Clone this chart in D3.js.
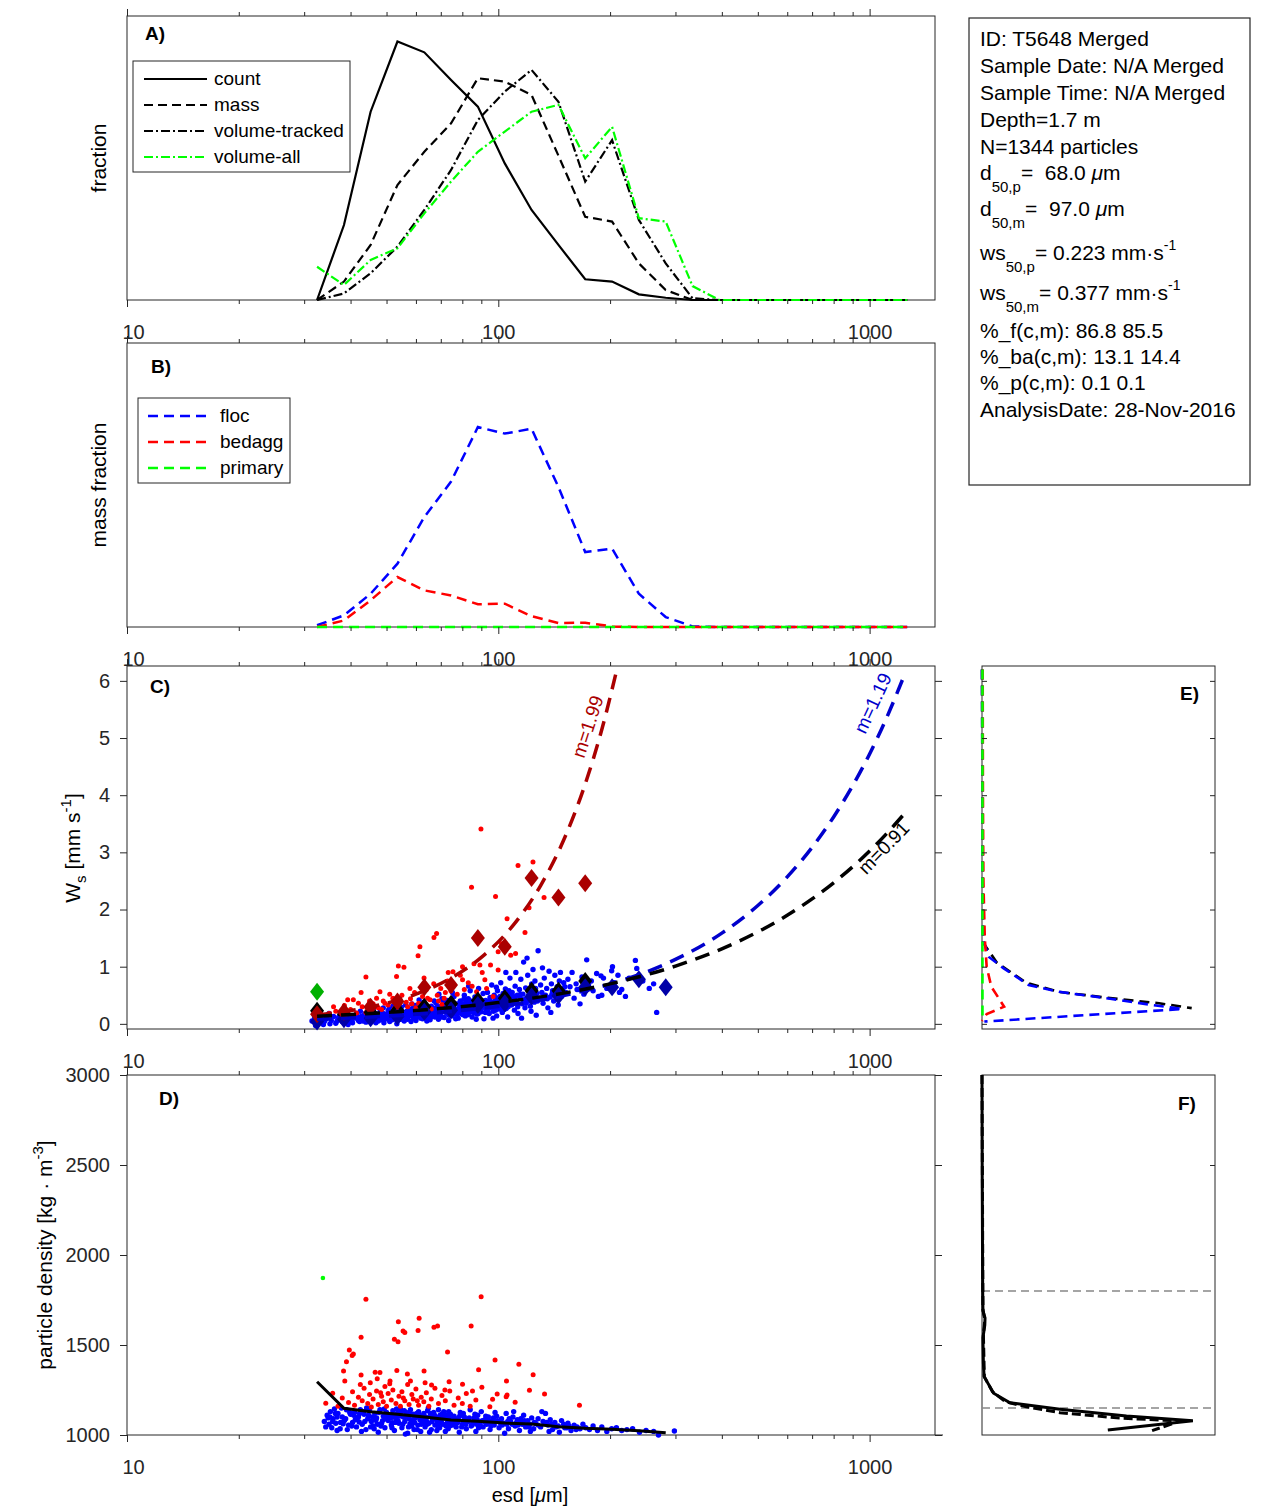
<!DOCTYPE html>
<html><head><meta charset="utf-8">
<script src="https://cdn.jsdelivr.net/npm/d3@7/dist/d3.min.js"></script>
<style>
body{margin:0;background:#fff}
svg{display:block}
text{font-family:"Liberation Sans",Arial,Helvetica,sans-serif}
</style>
</head><body>
<svg id="c" width="1270" height="1511"></svg>
<script>
// ---------------- DATA ----------------
const bins = [32.5, 38.4, 45.3, 53.5, 63.2, 74.6, 88.1, 104.1, 122.9, 145.2, 171.4, 202.5, 239.1, 282.4, 333.5, 393.9, 465.2, 549.4, 648.8, 766.3, 905, 1068.8, 1262.3];
const xTickMajor = [10, 100, 1000];
const xTickMinor = [20,30,40,50,60,70,80,90,200,300,400,500,600,700,800,900];

// Panel A (relative fraction)
const countFrac   = [0, 0.264, 0.663, 0.910, 0.872, 0.775, 0.681, 0.481, 0.317, 0.194, 0.073, 0.065, 0.020, 0.008, 0, 0, 0, 0, 0, 0, 0, 0, 0];
const massFrac    = [0, 0.065, 0.194, 0.405, 0.522, 0.622, 0.781, 0.769, 0.722, 0.508, 0.293, 0.276, 0.129, 0.035, 0, 0, 0, 0, 0, 0, 0, 0, 0];
const volTracked  = [0, 0.023, 0.094, 0.188, 0.317, 0.458, 0.634, 0.734, 0.810, 0.698, 0.417, 0.563, 0.282, 0.129, 0.006, 0, 0, 0, 0, 0, 0, 0, 0];
const volAll      = [0.117, 0.053, 0.141, 0.182, 0.305, 0.417, 0.522, 0.593, 0.663, 0.687, 0.499, 0.610, 0.288, 0.276, 0.049, 0, 0, 0, 0, 0, 0, 0, 0];
const legendA = ["count", "mass", "volume-tracked", "volume-all"];

// Panel B (mass fraction by class)
const flocFrac    = [0.006, 0.041, 0.117, 0.223, 0.387, 0.512, 0.704, 0.681, 0.698, 0.493, 0.264, 0.276, 0.117, 0.035, 0.002, 0, 0, 0, 0, 0, 0, 0, 0];
const bedaggFrac  = [0, 0.023, 0.094, 0.176, 0.129, 0.111, 0.080, 0.082, 0.038, 0.014, 0.015, 0.002, 0, 0, 0, 0, 0, 0, 0, 0, 0, 0, 0];
const primaryFrac = [0, 0, 0, 0, 0, 0, 0, 0, 0, 0, 0, 0, 0, 0, 0, 0, 0, 0, 0, 0, 0, 0, 0];
const legendB = ["floc", "bedagg", "primary"];

// Panel C: bin means of settling velocity (mm/s)
const wsMeanAll    = [0.23, 0.17, 0.20, 0.24, 0.30, 0.35, 0.41, 0.45, 0.58, 0.58, 0.75];
const wsMeanFloc   = [0.04, 0.08, 0.10, 0.13, 0.21, 0.24, 0.33, 0.36, 0.48, 0.49, 0.64, 0.64, 0.78, 0.64];
const wsMeanBedagg = [0.17, 0.21, 0.30, 0.39, 0.64, 0.68, 1.50, 1.35, 2.55, 2.21, 2.46];
const wsMeanPrimary = [0.56];

// Power-law fits
const fitBedaggEsd = [32.5, 40, 50, 60, 75, 90, 110, 130, 150, 170, 190, 208.6];
const fitBedaggWs  = [0.153, 0.232, 0.361, 0.519, 0.810, 1.163, 1.735, 2.420, 3.216, 4.127, 5.149, 6.20];
const fitFlocEsd   = [32.5, 50, 75, 100, 150, 200, 300, 400, 500, 600, 700, 800, 900, 1000, 1100, 1242];
const fitFlocWs    = [0.080, 0.134, 0.217, 0.305, 0.494, 0.696, 1.127, 1.587, 2.070, 2.571, 3.088, 3.620, 4.165, 4.721, 5.289, 6.11];
const fitAllEsd    = [32.5, 50, 75, 100, 150, 200, 300, 400, 500, 600, 700, 800, 900, 1000, 1100, 1242];
const fitAllWs     = [0.134, 0.198, 0.286, 0.372, 0.538, 0.699, 1.011, 1.313, 1.609, 1.899, 2.186, 2.468, 2.747, 3.023, 3.297, 3.68];
const fitLabels = [["m=1.99", 174, 5.2, -72], ["m=1.19", 1019, 5.61, -65], ["m=0.91", 1091, 3.08, -46]];

// Panel C scatter: [esd um, ws mm/s]
const flocC = [
[31.5,0.05],[32,0.12],[32.5,0.02],[33,0.08],[33.5,0.15],[34,0.04],[34.5,0.1],[35,0.18],[35.5,0.06],[36,0.13],[36.5,0.01],[37,0.09],[32.2,-0.03],[33.8,-0.01],[35.2,0.0],
[37.5,0.16],[38,0.04],[38.5,0.11],[39,0.2],[39.5,0.07],[40,0.14],[40.5,0.02],[41,0.1],[41.5,0.18],[42,0.06],[37.2,0.12],[38.8,0.08],[40.2,0.05],[41.8,0.13],[39.4,-0.01],
[42.5,0.22],[43,0.09],[43.5,0.15],[44,0.03],[44.5,0.12],[45,0.19],[45.5,0.07],[46,0.25],[46.5,0.11],[47,0.16],[47.5,0.05],[48,0.21],[42.8,0.13],[43.8,0.18],[44.8,0.08],[45.8,0.14],[46.8,0.02],[47.8,0.1],[43.2,0.05],[45.2,0.27],
[48.5,0.13],[49,0.28],[49.5,0.08],[50,0.17],[50.5,0.23],[51,0.04],[51.5,0.14],[52,0.31],[52.5,0.1],[53,0.19],[53.5,0.06],[54,0.24],[54.5,0.15],[55,0.09],[55.5,0.2],[56,0.12],[48.8,0.19],[49.8,0.11],[50.8,0.26],[51.8,0.07],[52.8,0.16],[53.8,0.12],[54.8,0.29],[55.8,0.05],[50.3,0.14],[52.3,0.21],[54.3,0.18],[56.3,0.33],[49.2,0.02],[53.3,0.0],
[56.5,0.17],[57,0.08],[57.5,0.26],[58,0.14],[58.5,0.35],[59,0.11],[59.5,0.21],[60,0.06],[60.5,0.18],[61,0.29],[61.5,0.13],[62,0.23],[62.5,0.09],[63,0.38],[63.5,0.16],[64,0.25],[64.5,0.12],[65,0.2],[65.5,0.07],[66,0.31],[57.3,0.19],[58.8,0.27],[60.2,0.15],[61.8,0.1],[63.2,0.22],[64.8,0.17],[59.8,0.32],[62.8,0.28],[65.2,0.14],[58.2,0.04],[61.2,0.42],[64.2,0.05],
[66.5,0.19],[67,0.27],[67.5,0.12],[68,0.36],[68.5,0.22],[69,0.08],[69.5,0.3],[70,0.16],[70.5,0.44],[71,0.24],[71.5,0.11],[72,0.33],[72.5,0.19],[73,0.27],[73.5,0.06],[74,0.38],[74.5,0.21],[75,0.14],[75.5,0.3],[76,0.48],[76.5,0.17],[77,0.25],[77.5,0.35],[78,0.1],[67.2,0.4],[68.8,0.15],[70.8,0.29],[72.8,0.41],[74.8,0.26],[76.8,0.09],[69.2,0.52],[73.2,0.2],[75.2,0.55],[71.8,0.23],[66.8,0.13],
[78.5,0.28],[79,0.4],[79.5,0.18],[80,0.33],[80.5,0.23],[81,0.5],[81.5,0.14],[82,0.37],[82.5,0.26],[83,0.44],[83.5,0.2],[84,0.58],[84.5,0.31],[85,0.12],[85.5,0.39],[86,0.24],[86.5,0.47],[87,0.3],[87.5,0.17],[88,0.36],[88.5,0.62],[89,0.27],[89.5,0.42],[90,0.21],[90.5,0.34],[91,0.53],[91.5,0.09],[92,0.29],[79.2,0.3],[80.8,0.43],[82.8,0.16],[84.8,0.22],[86.8,0.35],[88.8,0.45],[90.8,0.38],[83.2,0.66],[87.2,0.08],[85.2,0.3],
[92.5,0.41],[93,0.25],[93.5,0.55],[94,0.33],[94.5,0.18],[95,0.46],[95.5,0.29],[96,0.68],[96.5,0.37],[97,0.22],[97.5,0.5],[98,0.31],[98.5,0.43],[99,0.14],[99.5,0.58],[100,0.35],[100.5,0.26],[101,0.48],[101.5,0.72],[102,0.39],[102.5,0.2],[103,0.53],[103.5,0.32],[104,0.44],[104.5,0.61],[105,0.27],[105.5,0.4],[106,0.12],[106.5,0.5],[107,0.36],[107.5,0.8],[108,0.45],[94.8,0.4],[98.8,0.64],[102.8,0.28],[106.8,0.58],[96.8,0.1],[100.8,0.42],[104.8,0.9],
[108.5,0.33],[109,0.55],[110,0.42],[110.5,0.24],[111,0.66],[112,0.38],[112.5,0.5],[113,0.18],[114,0.6],[114.5,0.45],[115,0.78],[116,0.35],[116.5,0.52],[117,1.08],[118,0.28],[118.5,0.63],[119,0.44],[120,0.85],[121,0.4],[121.5,0.57],[122,0.31],[123,0.7],[123.5,0.48],[124,0.95],[125,0.38],[126,0.62],[126.5,0.15],[127,0.53],[128,1.28],[111.5,0.9],[119.5,1.15],[115.5,0.1],[122.5,0.22],[125.5,0.75],
[129,0.45],[130,0.68],[131,0.55],[132,0.36],[133,0.8],[134,0.5],[135,0.62],[136,0.28],[137,0.92],[138,0.47],[139,0.7],[140,0.58],[141,0.4],[142,0.85],[143,0.52],[144,0.65],[145,0.33],[146,0.75],[147,0.9],[148,0.48],[149,0.6],[150,0.72],[131.5,0.98],[138.5,0.2],[145.5,0.55],[135.5,0.44],
[152,0.55],[154,0.78],[156,0.65],[158,0.9],[160,0.45],[162,0.7],[165,0.6],[168,0.82],[170,0.52],[173,1.12],[175,0.68],[178,0.75],[180,0.58],[184,0.88],[189,0.84],[192,0.8],[196,0.62],[202,0.93],[205,0.72],[210,0.85],[215,0.6],[166,0.35],[186,0.48],[203,1.0],[190,0.5],[212,0.55],
[220,0.48],[225,0.8],[234,1.11],[236,0.97],[245,0.75],[255,0.62],[262,0.7],[267,0.2],
[60.7,0.24],[66.2,0.21],[71.2,0.37],[77.2,0.21],[83.7,0.35],[89.7,0.33],[95.7,0.37],[101.7,0.3],[109.7,0.48],[117.7,0.42],[127.5,0.4],[139.5,0.52],[151,0.65],[163,0.6],[176,0.62],[46.2,0.2],[51.2,0.18],[56.7,0.22],
[40.3,0.09],[41.3,0.15],[42.3,0.04],[43.6,0.11],[44.3,0.17],[45.3,0.1],[46.2,0.06],[47.3,0.13],[48.3,0.07],[49.6,0.16],[50.6,0.09],[51.6,0.2],[52.6,0.13],[53.6,0.25],[54.6,0.08],[55.6,0.16],[56.8,0.1],[57.8,0.22],[58.6,0.18],[59.6,0.09],[60.8,0.13],[61.6,0.2],[62.6,0.16],[63.6,0.3],[64.6,0.21],[65.6,0.11],[66.3,0.24],[67.8,0.18],[68.6,0.3],[69.6,0.2],[70.3,0.12],[71.6,0.32],[72.3,0.26],[73.6,0.15],[74.3,0.3],[75.8,0.22],[76.3,0.35],[77.8,0.18],[78.8,0.24],[79.8,0.35],[80.3,0.16],[81.8,0.28],[82.3,0.2],[83.8,0.3],[84.3,0.4],[85.8,0.2],[86.3,0.32],[87.8,0.25],[88.3,0.18],[89.3,0.35],[90.3,0.28],[91.3,0.4],[92.3,0.2],[93.8,0.36],[94.3,0.27],[95.3,0.38],[96.3,0.3],[97.8,0.4],[98.3,0.24],[99.8,0.45],[100.3,0.3],[101.3,0.36],[102.3,0.46],[103.8,0.25],[104.3,0.36],[105.8,0.5],[106.3,0.3],[107.8,0.4],[109.3,0.35],[110.8,0.46],[112.8,0.3],[114.8,0.52],[116.8,0.42],[118.8,0.36],[120.8,0.5],[122.8,0.45],[124.8,0.55],[126.8,0.42],[34.2,0.07],[36.8,0.05],[38.3,0.14],[39.7,0.11]
];
const bedaggC = [
[113,2.77],[124,2.83],[84.7,2.39],[98.3,2.23],[105.6,1.84],[121,2.03],[132.8,2.21],[111.3,1.23],[99.9,1.26],[95.3,1.03],[99.9,0.94],[89.2,1.03],[80.1,1.0],[80.1,0.77],[73.3,0.9],[68.2,1.58],[67.1,1.51],[61.5,1.35],[60.8,1.19],[53.8,1.01],[55.7,0.99],[44,0.82],[53.2,0.83],[48,0.56],[40.7,0.42],[39.3,0.42],[42.7,0.55],[47,0.45],[57.8,0.62],[63.1,0.8],[75.5,0.91],[92,0.77],[87.4,0.56],[96.8,0.48],[89.8,3.41],
[35,0.18],[36.5,0.22],[38,0.15],[40,0.25],[41.5,0.19],[43,0.3],[44.5,0.24],[46,0.35],[47.5,0.28],[49,0.4],[50.5,0.33],[52,0.45],[53.5,0.3],[55,0.5],[56.5,0.38],[58,0.44],[59.5,0.55],[61,0.36],[62.5,0.48],[64,0.6],[65.5,0.42],[67,0.7],[68.5,0.5],[70,0.62],[71.5,0.45],[73,0.75],[74.5,0.58],[76,0.68],[77.5,0.52],[79,0.85],[81,0.6],[83,0.72],[85,0.66],[86,1.05],[90.5,0.9],[93,0.62],[102,1.4],[108,1.2],[118,1.6],[36,0.3],[42,0.36],[45,0.4],[51,0.52],[57,0.3],[63.5,0.33],[69,0.4],[72,0.55],[48.5,0.25],[54,0.22],[60,0.28],[66,0.26],[38.5,0.32],[44,0.2],[46.5,0.31],[52.5,0.27],[58.5,0.35],[64.5,0.45],[70.5,0.34],[49.5,0.36]
];

// Panel D scatter: [esd um, density kg/m3]
const flocD = [
[34,1075],[34.3,1045],[34.6,1110],[35,1060],[35.3,1130],[35.6,1040],[35.9,1090],[36.2,1145],[36.5,1065],[37,1120],[37.5,1035],[38,1100],[38.5,1080],[39,1140],[39.5,1055],[40,1115],[34.8,1095],[35.8,1075],[36.8,1025],[37.8,1150],[39.2,1030],[36.4,1120],
[40.5,1070],[41,1125],[41.5,1045],[42,1100],[42.5,1140],[43,1060],[43.5,1115],[44,1030],[44.5,1090],[45,1135],[45.5,1075],[46,1050],[46.5,1120],[47,1095],[47.5,1015],[48,1140],[48.5,1065],[49,1105],[49.5,1040],[50,1125],[41.2,1085],[42.8,1020],[44.2,1150],[45.8,1100],[47.2,1060],[48.8,1080],[43.3,1130],[46.3,1035],[49.3,1145],[40.8,1110],
[50.5,1080],[51,1110],[51.5,1055],[52,1135],[52.5,1025],[53,1095],[53.5,1120],[54,1065],[54.5,1145],[55,1040],[55.5,1100],[56,1075],[56.5,1125],[57,1010],[57.5,1090],[58,1140],[58.5,1050],[59,1115],[59.5,1070],[60,1100],[60.5,1030],[61,1130],[61.5,1085],[62,1060],[51.3,1095],[52.8,1070],[54.3,1105],[55.8,1135],[57.3,1045],[58.8,1085],[60.3,1120],[61.8,1020],[53.2,1145],[56.2,1005],[59.3,1030],
[62.5,1095],[63,1120],[63.5,1045],[64,1080],[64.5,1135],[65,1065],[65.5,1105],[66,1030],[66.5,1090],[67,1125],[67.5,1055],[68,1100],[68.5,1075],[69,1140],[69.5,1040],[70,1085],[70.5,1115],[71,1060],[71.5,1095],[72,1020],[72.5,1110],[73,1070],[73.5,1130],[74,1050],[74.5,1090],[63.3,1070],[65.3,1015],[67.3,1110],[69.3,1065],[71.3,1130],[73.3,1035],[64.8,1150],[68.3,1025],
[75.5,1080],[76,1105],[77,1045],[78,1090],[79,1125],[80,1060],[81,1100],[82,1035],[83,1075],[84,1140],[85,1055],[86,1095],[87,1020],[88,1110],[89,1070],[90,1130],[91,1045],[92,1085],[93,1060],[94,1100],[95,1030],[76.5,1065],[78.5,1015],[80.5,1120],[82.5,1085],[84.5,1050],[86.5,1115],[88.5,1040],[90.5,1080],[92.5,1105],[94.5,1065],
[96,1080],[97.5,1055],[99,1105],[100.5,1040],[102,1090],[103.5,1065],[105,1120],[106.5,1035],[108,1075],[109.5,1100],[111,1050],[112.5,1085],[114,1025],[115.5,1070],[117,1110],[118.5,1045],[120,1080],[121.5,1060],[123,1095],[124.5,1035],[98,1125],[104,1010],[110,1130],[116,1060],[122,1020],[101,1070],[107,1090],[113,1055],
[126,1065],[128,1090],[130,1045],[132,1075],[134,1120],[136,1055],[138,1085],[140,1030],[142,1070],[145,1050],[148,1080],[151,1040],[154,1065],[157,1025],[160,1055],[163,1045],[166,1035],[169,1060],[131,1130],[137,1020],[146,1015],[155,1050],[162,1030],
[172,1040],[176,1030],[180,1050],[185,1025],[190,1045],[196,1020],[202,1035],[208,1040],[215,1025],[222,1030],[230,1035],[240,1015],[250,1025],[262,1020],[270,1000],[298,1022],
[38.2,1062],[42.2,1072],[46.8,1082],[51.8,1068],[57.8,1062],[62.8,1078],[68.8,1088],[74.8,1072],[81.5,1082],[87.5,1060],[97,1095],[105.5,1060],[115,1090],[125,1070],[139,1060],[150,1060],
[38.8,1090],[39.8,1125],[40.3,1050],[41.7,1095],[42.3,1120],[43.7,1075],[44.7,1110],[45.3,1045],[46.7,1085],[47.7,1125],[48.3,1050],[49.7,1090],[50.3,1110],[51.7,1040],[52.3,1100],[53.7,1080],[54.7,1125],[55.3,1060],[56.7,1100],[57.7,1120],[58.3,1070],[59.7,1095],[60.7,1055],[61.3,1110],[62.3,1085],[63.7,1100],[64.3,1060],[65.7,1120],[66.3,1075],[67.7,1090],[68.7,1050],[69.7,1110],[70.3,1070],[71.7,1100],[72.3,1050],[73.7,1090],[74.3,1115],[75.3,1055],[76.7,1090],[77.7,1070],[78.7,1105],[79.7,1045],[80.7,1080],[81.7,1060],[83.5,1095],[85.5,1070],[87.7,1085],[89.5,1050],[91.5,1075],[93.5,1090],[95.5,1050],[97,1070],[99.5,1080],[102.5,1055],[106,1075],[109,1060],[112,1070],[117.5,1080],[121,1045],[128,1055],[135,1070],[143,1045],[153,1040],[36.8,1100],[37.6,1070],[35.2,1100]
];
const bedaggD = [
[44,1754],[89.9,1768],[53.8,1629],[61.2,1648],[55.4,1578],[56,1570],[60.8,1580],[67.1,1598],[68.6,1606],[84.5,1606],[42.7,1543],[52.5,1532],[53.7,1518],[39.7,1472],[40.7,1450],[40.4,1442],[39,1407],[73,1461],[98,1417],[38.3,1356],[38.6,1300],[42.7,1333],[46.6,1348],[48,1347],[47.2,1313],[53.3,1359],[56.9,1339],[63.1,1356],[88.5,1363],[105.2,1300],[34.3,1176],[35.8,1232],[51.1,1300],[73.7,1296],[80.1,1282],[85.2,1244],[90.3,1265],[66.1,1278],[71.8,1250],[96.5,1198],[99.3,1228],[105.6,1222],[94.9,1157],[113.6,1393],[124.1,1335],[121.3,1248],[133.2,1228],[105,1213],[111,1182],[165.4,1165],
[37,1160],[38,1205],[39.5,1180],[40.5,1240],[41,1165],[42,1210],[43,1190],[43.5,1260],[44.5,1175],[45,1225],[45.5,1155],[46,1200],[47,1245],[47.5,1170],[48.5,1215],[49,1185],[49.5,1270],[50,1160],[50.5,1230],[51.5,1195],[52,1250],[53,1175],[54,1215],[54.5,1160],[55,1240],[56,1190],[57,1280],[57.5,1170],[58.5,1225],[59,1200],[60,1255],[61,1165],[62,1210],[63,1185],[64,1235],[65,1160],[66,1200],[67.5,1260],[69,1175],[70.5,1220],[72,1190],[74,1245],[76,1165],[78,1205],[80,1175],[82,1230],[84,1160],[87,1195],[45.2,1290],[51,1285],[58,1300],[63.5,1290],[42.5,1280],[55.5,1205],[48.2,1235],[60.5,1190]
];
const primaryD = [[33.7,1872]];
const rhoMeanAll = [1296, 1148, 1129, 1115, 1100, 1083, 1076, 1066, 1061, 1046, 1037, 1032, 1024, 1013];

// Panel E: [ws, relative fraction]
const eAll     = [[6.2,0],[4,0.002],[2,0.004],[1.42,0.005],[1.07,0.064],[0.72,0.19],[0.56,0.33],[0.45,0.55],[0.36,0.76],[0.275,0.9]];
const eFloc    = [[6.2,0],[2.4,0.003],[1.47,0.005],[1.17,0.03],[0.98,0.09],[0.68,0.2],[0.56,0.33],[0.44,0.55],[0.33,0.73],[0.26,0.86],[0.04,0.01]];
const eBedagg  = [[6.2,0.003],[4,0.004],[2.5,0.006],[1.5,0.012],[1.0,0.02],[0.65,0.04],[0.3,0.095],[0.17,0.02],[0.05,0.0]];
const ePrimary = [[6.2,0.002],[0.05,0.002]];

// Panel F: [density, relative fraction]
const fCount = [[3000,0],[2400,0.001],[1800,0.003],[1690,0.004],[1650,0.013],[1610,0.012],[1540,0.004],[1400,0.006],[1324,0.009],[1232,0.05],[1179,0.12],[1143,0.335],[1106,0.62],[1079,0.905],[1028,0.54]];
const fMass  = [[3000,0],[1700,0.004],[1640,0.012],[1560,0.006],[1324,0.01],[1240,0.045],[1185,0.1],[1157,0.19],[1124,0.335],[1094,0.59],[1078,0.85],[1024,0.73]];
const fThresholds = [1150, 1800];

const infoLines = [
 ["ID: T5648 Merged"], ["Sample Date: N/A Merged"], ["Sample Time: N/A Merged"], ["Depth=1.7 m"], ["N=1344 particles"],
 ["d", "50,p", "=\u00a0\u00a068.0 ", "μ", "m"], ["d", "50,m", "=\u00a0\u00a097.0 ", "μ", "m"],
 ["ws", "50,p", "= 0.223 mm·s", "-1"], ["ws", "50,m", "= 0.377 mm·s", "-1"],
 ["%_f(c,m): 86.8 85.5"], ["%_ba(c,m): 13.1 14.4"], ["%_p(c,m): 0.1 0.1"], ["AnalysisDate: 28-Nov-2016"]
];

// ---------------- DRAW ----------------
const AX = '#262626';
const svg = d3.select('#c');
svg.append('rect').attr('width',1270).attr('height',1511).attr('fill','#fff');

const X = d3.scaleLog().domain([10,1500]).range([127,935]);
const yA = d3.scaleLinear().domain([0,1]).range([300,16]);
const yB = d3.scaleLinear().domain([0,1]).range([627,343]);
const yC = d3.scaleLinear().domain([-0.09,6.26]).range([1029,666]);
const yD = d3.scaleLinear().domain([1000,3000]).range([1435,1075]);
const xE = d3.scaleLinear().domain([0,1]).range([982,1215]);

function panelBox(x0,y0,x1,y1){
  svg.append('rect').attr('x',x0).attr('y',y0).attr('width',x1-x0).attr('height',y1-y0)
    .attr('fill','#fff').attr('stroke',AX).attr('stroke-width',1);
}
function styleAxis(g){ g.select('.domain').remove(); g.selectAll('line').attr('stroke',AX);
  g.selectAll('text').attr('fill',AX).attr('font-size',20).style('font-family','"Liberation Sans",Arial,sans-serif'); }
function logX(yTop, yBot){
  svg.append('g').attr('transform',`translate(0,${yTop})`).call(d3.axisTop(X).tickValues(xTickMajor).tickSize(7).tickFormat('')).call(styleAxis);
  svg.append('g').attr('transform',`translate(0,${yTop})`).call(d3.axisTop(X).tickValues(xTickMinor).tickSize(4).tickFormat('')).call(styleAxis);
  svg.append('g').attr('transform',`translate(0,${yBot})`).call(d3.axisBottom(X).tickValues(xTickMinor).tickSize(4).tickFormat('')).call(styleAxis);
  const g = svg.append('g').attr('transform',`translate(0,${yBot})`)
    .call(d3.axisBottom(X).tickValues(xTickMajor).tickSize(7).tickPadding(18).tickFormat(d3.format('d'))).call(styleAxis);
  g.selectAll('.tick').filter(d=>d===10).select('text').attr('x',6);
}
function binLine(vals, ys){ return d3.line().x((d,i)=>X(bins[i])).y(d=>ys(d))(vals); }

// ---- Panel A ----
panelBox(127,16,935,300);
const Astyles = [
  {v:countFrac, c:'#000', da:null},
  {v:massFrac, c:'#000', da:'9,5'},
  {v:volTracked, c:'#000', da:'9,3,2,3'},
  {v:volAll, c:'#00ff00', da:'9,3,2,3'}
];
Astyles.forEach(s=>{
  svg.append('path').attr('d',binLine(s.v,yA)).attr('fill','none').attr('stroke',s.c).attr('stroke-width',2.2)
    .attr('stroke-dasharray',s.da);
});
logX(16,300);
svg.append('rect').attr('x',133).attr('y',61).attr('width',217).attr('height',111).attr('fill','#fff').attr('stroke',AX).attr('stroke-width',1);
legendA.forEach((t,i)=>{
  const y = 79 + i*26;
  svg.append('line').attr('x1',144).attr('x2',207).attr('y1',y).attr('y2',y).attr('stroke',Astyles[i].c).attr('stroke-width',2.2).attr('stroke-dasharray',Astyles[i].da);
  svg.append('text').attr('x',214).attr('y',y+6).attr('font-size',19).text(t);
});
svg.append('text').attr('x',145).attr('y',40).attr('font-size',19).attr('font-weight','bold').text('A)');
svg.append('text').attr('transform','translate(106,158) rotate(-90)').attr('text-anchor','middle').attr('font-size',21).text('fraction');

// ---- Panel B ----
panelBox(127,343,935,627);
const Bstyles = [{v:flocFrac,c:'#0000ff'},{v:bedaggFrac,c:'#ff0000'},{v:primaryFrac,c:'#00ff00'}];
Bstyles.forEach(s=>{
  svg.append('path').attr('d',binLine(s.v,yB)).attr('fill','none').attr('stroke',s.c).attr('stroke-width',2.5).attr('stroke-dasharray','10,6');
});
logX(343,627);
svg.append('rect').attr('x',138).attr('y',398).attr('width',152).attr('height',85).attr('fill','#fff').attr('stroke',AX).attr('stroke-width',1);
legendB.forEach((t,i)=>{
  const y = 416 + i*26;
  svg.append('line').attr('x1',148).attr('x2',212).attr('y1',y).attr('y2',y).attr('stroke',Bstyles[i].c).attr('stroke-width',2.5).attr('stroke-dasharray','10,6');
  svg.append('text').attr('x',220).attr('y',y+6).attr('font-size',19).text(t);
});
svg.append('text').attr('x',151).attr('y',373).attr('font-size',19).attr('font-weight','bold').text('B)');
svg.append('text').attr('transform','translate(106,485) rotate(-90)').attr('text-anchor','middle').attr('font-size',21).text('mass fraction');

// ---- Panel C ----
panelBox(127,666,935,1029);
const gC = svg.append('g');
gC.selectAll('.fc').data(flocC).join('circle').attr('cx',d=>X(d[0])).attr('cy',d=>yC(d[1])).attr('r',2.7).attr('fill','#0000ff');
gC.selectAll('.bc').data(bedaggC).join('circle').attr('cx',d=>X(d[0])).attr('cy',d=>yC(d[1])).attr('r',2.5).attr('fill','#ff0000');
function diamond(cx,cy){ return `M${cx},${cy-9}L${cx+7},${cy}L${cx},${cy+9}L${cx-7},${cy}Z`; }
function diamonds(vals, color){
  gC.append('g').selectAll('path').data(vals).join('path').attr('d',(d,i)=>diamond(X(bins[i]),yC(d))).attr('fill',color);
}
diamonds(wsMeanAll,'#000000');
diamonds(wsMeanFloc,'#0000a8');
diamonds(wsMeanBedagg,'#aa0000');
diamonds(wsMeanPrimary,'#00b000');
const fits = [
  {e:fitBedaggEsd, w:fitBedaggWs, c:'#aa0000'},
  {e:fitFlocEsd, w:fitFlocWs, c:'#0000cc'},
  {e:fitAllEsd, w:fitAllWs, c:'#000000'}
];
const fitLine = d3.line().curve(d3.curveMonotoneX).x(d=>X(d[0])).y(d=>yC(d[1]));
fits.forEach(f=>{
  gC.append('path').attr('d',fitLine(f.e.map((v,i)=>[v,f.w[i]]))).attr('fill','none').attr('stroke',f.c).attr('stroke-width',3.5).attr('stroke-dasharray','15,9');
});
fitLabels.forEach((l,i)=>{
  gC.append('text').attr('transform',`translate(${X(l[1])},${yC(l[2])}) rotate(${l[3]})`).attr('text-anchor','middle').attr('dy','0.35em')
    .attr('font-size',19).attr('fill',fits[i].c).text(l[0]);
});
logX(666,1029);
svg.append('g').attr('transform','translate(127,0)').call(d3.axisLeft(yC).tickValues([0,1,2,3,4,5,6]).tickSize(7).tickPadding(10).tickFormat(d3.format('d'))).call(styleAxis);
svg.append('g').attr('transform','translate(935,0)').call(d3.axisRight(yC).tickValues([0,1,2,3,4,5,6]).tickSize(7).tickFormat('')).call(styleAxis);
svg.append('text').attr('x',150).attr('y',693).attr('font-size',19).attr('font-weight','bold').text('C)');
const lc = svg.append('text').attr('transform','translate(80,848) rotate(-90)').attr('text-anchor','middle').attr('font-size',21);
lc.append('tspan').text('W');
lc.append('tspan').attr('font-size',15).attr('dy',6).text('s');
lc.append('tspan').attr('dy',-6).text('\u00a0[mm s');
lc.append('tspan').attr('font-size',15).attr('dy',-9).text('-1');
lc.append('tspan').attr('dy',9).text(']');

// ---- Panel D ----
panelBox(127,1075,935,1435);
const gD = svg.append('g');
gD.selectAll('.fd').data(flocD).join('circle').attr('cx',d=>X(d[0])).attr('cy',d=>yD(d[1])).attr('r',2.7).attr('fill','#0000ff');
gD.selectAll('.bd').data(bedaggD).join('circle').attr('cx',d=>X(d[0])).attr('cy',d=>yD(d[1])).attr('r',2.5).attr('fill','#ff0000');
gD.selectAll('.pd').data(primaryD).join('circle').attr('cx',d=>X(d[0])).attr('cy',d=>yD(d[1])).attr('r',2.3).attr('fill','#00ff00');
gD.append('path').attr('d',binLine(rhoMeanAll,yD)).attr('fill','none').attr('stroke','#000').attr('stroke-width',3);
logX(1075,1435);
svg.append('line').attr('x1',935).attr('x2',943).attr('y1',1435).attr('y2',1435).attr('stroke',AX);
svg.append('g').attr('transform','translate(127,0)').call(d3.axisLeft(yD).tickValues([1000,1500,2000,2500,3000]).tickSize(7).tickPadding(10).tickFormat(d3.format('d'))).call(styleAxis);
svg.append('g').attr('transform','translate(935,0)').call(d3.axisRight(yD).tickValues([1000,1500,2000,2500,3000]).tickSize(7).tickFormat('')).call(styleAxis);
svg.append('text').attr('x',159).attr('y',1105).attr('font-size',19).attr('font-weight','bold').text('D)');
const ld = svg.append('text').attr('transform','translate(52,1255) rotate(-90)').attr('text-anchor','middle').attr('font-size',21);
ld.append('tspan').text('particle density [kg\u00a0\u00b7\u00a0m');
ld.append('tspan').attr('font-size',15).attr('dy',-9).text('-3');
ld.append('tspan').attr('dy',9).text(']');
const lx = svg.append('text').attr('x',530).attr('y',1502).attr('text-anchor','middle').attr('font-size',20);
lx.append('tspan').text('esd [');
lx.append('tspan').attr('font-style','italic').text('μ');
lx.append('tspan').text('m]');

// ---- Panel E ----
panelBox(982,666,1215,1029);
const eLine = d3.line().x(d=>xE(d[1])).y(d=>yC(d[0]));
[[eAll,'#000'],[eFloc,'#0000ff'],[eBedagg,'#ff0000'],[ePrimary,'#00ff00']].forEach(s=>{
  svg.append('path').attr('d',eLine(s[0])).attr('fill','none').attr('stroke',s[1]).attr('stroke-width',2.6).attr('stroke-dasharray','10,6');
});
svg.append('g').attr('transform','translate(1215,0)').call(d3.axisRight(yC).tickValues([0,1,2,3,4,5,6]).tickSize(-5).tickFormat('')).call(styleAxis);
svg.append('g').attr('transform','translate(982,0)').call(d3.axisLeft(yC).tickValues([0,1,2,3,4,5,6]).tickSize(-5).tickFormat('')).call(styleAxis);
svg.append('text').attr('x',1180).attr('y',700).attr('font-size',19).attr('font-weight','bold').text('E)');

// ---- Panel F ----
panelBox(982,1075,1215,1435);
svg.append('g').selectAll('line').data(fThresholds).join('line').attr('x1',982).attr('x2',1215).attr('y1',d=>yD(d)).attr('y2',d=>yD(d))
  .attr('stroke','#888').attr('stroke-width',1.5).attr('stroke-dasharray','8,5');
const fLine = d3.line().x(d=>xE(d[1])).y(d=>yD(d[0]));
svg.append('path').attr('d',fLine(fMass)).attr('fill','none').attr('stroke','#000').attr('stroke-width',3).attr('stroke-dasharray','9,4');
svg.append('path').attr('d',fLine(fCount)).attr('fill','none').attr('stroke','#000').attr('stroke-width',3);
svg.append('g').attr('transform','translate(1215,0)').call(d3.axisRight(yD).tickValues([1500,2000,2500]).tickSize(-5).tickFormat('')).call(styleAxis);
svg.append('text').attr('x',1178).attr('y',1110).attr('font-size',19).attr('font-weight','bold').text('F)');

// ---- Info box ----
svg.append('rect').attr('x',969).attr('y',18).attr('width',281).attr('height',467).attr('fill','#fff').attr('stroke',AX).attr('stroke-width',1.2);
const baselines = [46,73,100,127,154,180,216,260,300,338,364,390,417];
infoLines.forEach((ln,i)=>{
  const t = svg.append('text').attr('x',980).attr('y',baselines[i]).attr('font-size',21);
  if(ln.length===1){ t.text(ln[0]); }
  else if(ln.length===5){
    t.append('tspan').text(ln[0]);
    t.append('tspan').attr('font-size',15).attr('dy',12).text(ln[1]);
    t.append('tspan').attr('dy',-12).text(ln[2]);
    t.append('tspan').attr('font-style','italic').text(ln[3]);
    t.append('tspan').text(ln[4]);
  } else {
    t.append('tspan').text(ln[0]);
    t.append('tspan').attr('font-size',15).attr('dy',12).text(ln[1]);
    t.append('tspan').attr('dy',-12).text(ln[2]);
    t.append('tspan').attr('font-size',14).attr('dy',-10).text(ln[3]);
  }
});
</script>
</body></html>
